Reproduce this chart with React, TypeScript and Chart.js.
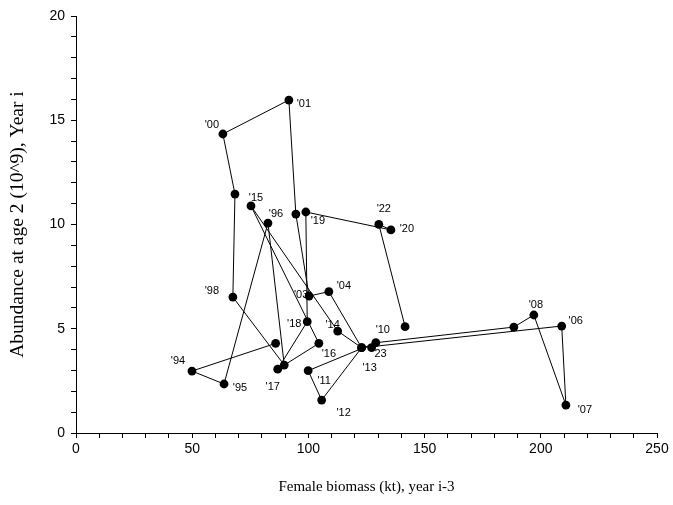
import { useEffect, useRef } from "react";
import { Chart, registerables } from "chart.js";

Chart.register(...registerables);

// Connected path (in drawing order)
const biomass = [
  85.9, 49.9, 63.7, 82.6, 89.6, 67.5, 68.4, 63.2, 91.6, 94.6,
  100.3, 108.8, 122.9, 209.0, 210.8, 197.0, 188.4, 129.0, 99.9, 105.7,
  122.9, 112.6, 75.3, 104.5, 86.8, 99.5, 98.9, 135.5, 130.3, 141.6,
];
const abundance = [
  4.3, 2.97, 2.35, 10.07, 3.26, 6.52, 11.46, 14.34, 15.97, 10.5,
  6.57, 6.78, 4.09, 5.13, 1.34, 5.66, 5.08, 4.33, 2.99, 1.58,
  4.09, 4.89, 10.89, 4.3, 3.06, 5.34, 10.6, 9.74, 10.01, 5.1,
];
const pointLabels = [
  "", "'94", "'95", "'96", "", "'98", "", "'00", "'01", "",
  "'03", "'04", "", "'06", "'07", "'08", "", "'10", "'11", "'12",
  "'13", "'14", "'15", "'16", "'17", "'18", "'19", "'20", "'22", "",
];
// label offsets from the point (pixels)
const labelOffsets: [number, number][] = [
  [0, 0], [-14, -10], [16, 4], [8, -9], [0, 0], [-21, -6], [0, 0], [-11, -9], [15, 4], [0, 0],
  [-8, -1], [15, -6], [0, 0], [14, -5], [19, 5], [2, -10], [0, 0], [7, -13], [16, 10], [22, 13],
  [8, 20], [-5, -6], [5, -8], [10, 11], [-5, 18], [-13, 2], [12, 9], [16, -1], [5, -15], [0, 0],
];

// Unconnected point
const extraBiomass = [127.2];
const extraAbundance = [4.09];
const extraLabels = ["23"];
const extraOffsets: [number, number][] = [[9, 6]];

const xMajor = [0, 50, 100, 150, 200, 250];
const yMajor = [0, 5, 10, 15, 20];

const SANS = '"Liberation Sans", Arial, sans-serif';
const SERIF = '"Liberation Serif", "Times New Roman", serif';

export default function App() {
  const ref = useRef<HTMLCanvasElement | null>(null);

  useEffect(() => {
    if (!ref.current) return;

    const labelPlugin = {
      id: "pointLabelPlugin",
      beforeDatasetsDraw(chart: any) {
        const ctx = chart.ctx;
        ctx.save();
        ctx.font = `11px ${SANS}`;
        ctx.fillStyle = "#000";
        ctx.textAlign = "center";
        ctx.textBaseline = "middle";
        const sets: [string[], [number, number][]][] = [
          [pointLabels, labelOffsets],
          [extraLabels, extraOffsets],
        ];
        sets.forEach(([texts, offs], di) => {
          const meta = chart.getDatasetMeta(di);
          meta.data.forEach((el: any, i: number) => {
            const t = texts[i];
            if (!t) return;
            ctx.fillText(t, el.x + offs[i][0], el.y + offs[i][1]);
          });
        });
        ctx.restore();
      },
    };

    const chart = new Chart(ref.current, {
      type: "scatter",
      data: {
        datasets: [
          {
            data: biomass.map((x, i) => ({ x, y: abundance[i] })),
            showLine: true,
            borderColor: "#000",
            borderWidth: 1,
            pointRadius: 4.4,
            pointBorderWidth: 0,
            pointBackgroundColor: "#000",
            tension: 0,
          },
          {
            data: extraBiomass.map((x, i) => ({ x, y: extraAbundance[i] })),
            showLine: false,
            pointRadius: 4.4,
            pointBorderWidth: 0,
            pointBackgroundColor: "#000",
          },
        ],
      },
      options: {
        responsive: false,
        animation: false,
        layout: { padding: { left: 0, right: 16, top: 16, bottom: 0 } },
        plugins: {
          legend: { display: false },
          tooltip: { enabled: false },
        },
        scales: {
          x: {
            type: "linear",
            min: 0,
            max: 250,
            afterFit: (s: any) => {
              s.height = 72;
            },
            ticks: {
              stepSize: 10,
              autoSkip: false,
              maxRotation: 0,
              color: "#000",
              padding: 3,
              font: { family: SANS, size: 14 },
              callback: (v: any) => (xMajor.includes(Number(v)) ? String(v) : ""),
            },
            grid: {
              display: true,
              drawOnChartArea: false,
              drawTicks: true,
              tickLength: 5,
              color: "#000",
              lineWidth: 1,
            },
            border: { display: true, color: "#000", width: 1 },
            title: {
              display: true,
              text: "Female biomass (kt), year i-3",
              color: "#000",
              font: { family: SERIF, size: 15 },
              padding: { top: 0, bottom: 9 },
            },
          },
          y: {
            type: "linear",
            min: 0,
            max: 20,
            afterFit: (s: any) => {
              s.width = 76;
            },
            ticks: {
              stepSize: 1,
              autoSkip: false,
              color: "#000",
              padding: 6,
              font: { family: SANS, size: 14 },
              callback: (v: any) => (yMajor.includes(Number(v)) ? String(v) : ""),
            },
            grid: {
              display: true,
              drawOnChartArea: false,
              drawTicks: true,
              tickLength: 5,
              color: "#000",
              lineWidth: 1,
            },
            border: { display: true, color: "#000", width: 1 },
            title: {
              display: true,
              text: "Abundance at age 2 (10^9), Year i",
              color: "#000",
              font: { family: SERIF, size: 19.5 },
              padding: { top: 6, bottom: 0 },
            },
          },
        },
      },
      plugins: [labelPlugin],
    });

    return () => chart.destroy();
  }, []);

  return (
    <div style={{ position: "absolute", left: 0, top: 0, width: 673, height: 505, background: "#fff" }}>
      <canvas ref={ref} width={673} height={505} />
    </div>
  );
}
